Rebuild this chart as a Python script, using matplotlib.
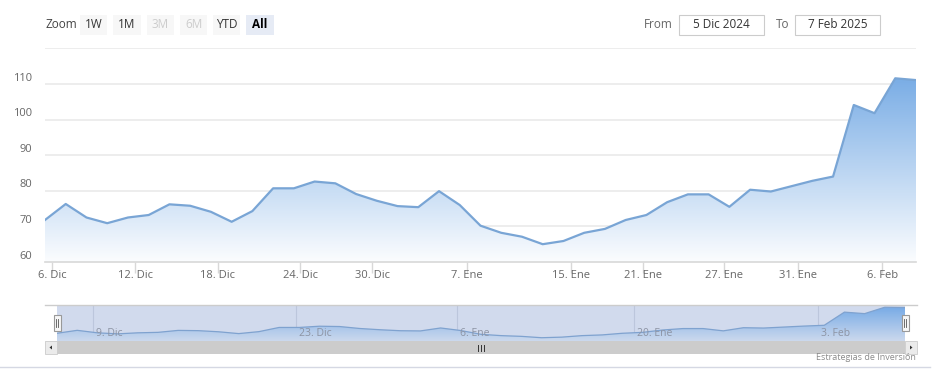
import matplotlib
matplotlib.use("Agg")
import matplotlib.pyplot as plt
import numpy as np
from matplotlib.patches import Rectangle, Polygon
from matplotlib.colors import LinearSegmentedColormap

# ---------------- data ----------------
values = [71.8, 76.3, 72.5, 70.9, 72.5, 73.2, 76.2, 75.8, 74.1, 71.3,
          74.3, 80.7, 80.7, 82.6, 82.1, 79.1, 77.2, 75.7, 75.4, 79.9,
          76.0, 70.2, 68.2, 67.1, 65.0, 65.9, 68.2, 69.3, 71.8, 73.2,
          76.8, 79.0, 79.0, 75.5, 80.3, 79.8, 81.3, 82.8, 84.0, 104.1,
          101.8, 111.6, 111.1]
x_tick_labels = ["6. Dic", "12. Dic", "18. Dic", "24. Dic", "30. Dic", "7. Ene",
                 "15. Ene", "21. Ene", "27. Ene", "31. Ene", "6. Feb"]
x_tick_index = [0.34, 4.34, 8.34, 12.3, 15.78, 20.33, 25.35, 28.85, 32.75, 36.3, 40.37]
y_ticks = [60, 70, 80, 90, 100, 110, 120]
y_tick_labels = ["60", "70", "80", "90", "100", "110", ""]
nav_labels = ["9. Dic", "23. Dic", "6. Ene", "20. Ene", "3. Feb"]
nav_index = [1.78, 11.84, 19.8, 28.6, 37.7]
zoom_buttons = ["1W", "1M", "3M", "6M", "YTD", "All"]
from_date = "5 Dic 2024"
to_date = "7 Feb 2025"
credit = "Estrategias de Inversión"

# ---------------- layout helpers ----------------
W, H = 933, 388
plt.rcParams['font.family'] = ['Open Sans', 'DejaVu Sans']
fig = plt.figure(figsize=(W / 100, H / 100), dpi=100)
fig.patch.set_facecolor('white')


def fx(px):
    return px / W


def fy(py):
    return 1 - py / H


def frect(x0, y0, x1, y1, **kw):
    r = Rectangle((fx(x0), fy(y1)), fx(x1) - fx(x0), (y1 - y0) / H,
                  transform=fig.transFigure, **kw)
    fig.add_artist(r)
    return r


def fline(x0, y0, x1, y1, **kw):
    fig.add_artist(plt.Line2D([fx(x0), fx(x1)], [fy(y0), fy(y1)],
                              transform=fig.transFigure, **kw))


x = np.arange(len(values))
vmax = max(values)
blue_line = '#79a5d5'
cmap = LinearSegmentedColormap.from_list(
    'g', [(1, 1, 1), (0.48, 0.68, 0.9)])

# ---------------- main axes ----------------
ax = fig.add_axes([fx(45), fy(262), fx(916) - fx(45), (262 - 48.4) / H])
ax.set_xlim(0, len(values) - 1)
ax.set_ylim(60, 120)
for s in ['top', 'right', 'left']:
    ax.spines[s].set_visible(False)
ax.spines['bottom'].set_color('#d8d8d8')
ax.spines['bottom'].set_linewidth(1.2)
ax.set_yticks(y_ticks)
ax.set_yticklabels([])
ax.tick_params(axis='y', length=0)
ax.grid(axis='y', color='#e8e8e8', linewidth=1.1)
ax.set_axisbelow(True)
ax.set_xticks(x_tick_index)
ax.set_xticklabels([])
ax.tick_params(axis='x', length=8, color='#d8d8d8', width=1, direction='out')

grad = np.linspace(0, 1, 256).reshape(-1, 1)
im = ax.imshow(grad, extent=[0, len(values) - 1, 60, vmax], origin='lower',
               aspect='auto', cmap=cmap, vmin=-0.03, vmax=1.0, zorder=1)
clip = Polygon(np.vstack([np.column_stack([x, values]),
                          [[x[-1], 60], [x[0], 60]]]),
               closed=True, transform=ax.transData, facecolor='none', edgecolor='none')
ax.add_patch(clip)
im.set_clip_path(clip)
ax.plot(x, values, color=blue_line, lw=1.6, zorder=3, solid_joinstyle='round')

for v, lab in zip(y_ticks, y_tick_labels):
    ax.annotate(lab, xy=(0, v), xycoords=('axes fraction', 'data'),
                xytext=(-13 * 0.72, 6 * 0.72), textcoords='offset points',
                ha='right', va='center', fontsize=8, color='#666666')
for p, lab in zip(x_tick_index, x_tick_labels):
    ax.annotate(lab, xy=(p, 0), xycoords=('data', 'axes fraction'),
                xytext=(0, -14 * 0.72), textcoords='offset points',
                ha='center', va='center', fontsize=8, color='#666666')

# ---------------- navigator ----------------
frect(45, 305, 917, 341, facecolor='white', edgecolor='none', zorder=0)
nav = fig.add_axes([fx(57), fy(341), fx(905) - fx(57), (341 - 305) / H])
nav.set_xlim(0, len(values) - 1)
nav.set_ylim(60, 115)
nav.set_facecolor('#d1daed')
for s in nav.spines.values():
    s.set_visible(False)
nav.set_xticks([])
nav.set_yticks([])
for p, lab in zip(nav_index, nav_labels):
    nav.axvline(p, color='#bcc6dc', lw=0.8, zorder=0.5)
    nav.annotate(lab, xy=(p, 0), xycoords=('data', 'axes fraction'),
                 xytext=(3 * 0.72, 7 * 0.72), textcoords='offset points',
                 ha='left', va='center', fontsize=7.5, color='#8c93a3', zorder=5)
nav_cmap = LinearSegmentedColormap.from_list(
    'n', [(0.80, 0.85, 0.93), (0.45, 0.66, 0.9)])
nim = nav.imshow(np.linspace(0, 1, 256).reshape(-1, 1), extent=[0, len(values) - 1, 60, 115],
                 origin='lower', aspect='auto', cmap=nav_cmap, zorder=2)
nclip = Polygon(np.vstack([np.column_stack([x, values]),
                           [[x[-1], 60], [x[0], 60]]]),
                closed=True, transform=nav.transData, facecolor='none', edgecolor='none')
nav.add_patch(nclip)
nim.set_clip_path(nclip)
nav.plot(x, values, color='#7fa2cf', lw=0.9, zorder=3)

fline(45, 305, 917, 305, color='#cccccc', lw=1)
# handles
for hx in (57, 905):
    frect(hx - 3.5, 315, hx + 3.5, 331, facecolor='#f7f7f7', edgecolor='#999999', lw=0.8, zorder=5)
    fline(hx - 1, 319, hx - 1, 327, color='#555555', lw=0.6, zorder=6)
    fline(hx + 1, 319, hx + 1, 327, color='#555555', lw=0.6, zorder=6)

# scrollbar
frect(45, 341, 917, 354, facecolor='#f2f2f2', edgecolor='none', zorder=1)
frect(57, 341, 905, 354, facecolor='#cccccc', edgecolor='none', zorder=2)
frect(45, 341, 57, 354, facecolor='#ebebeb', edgecolor='#cccccc', lw=0.6, zorder=2)
frect(905, 341, 917, 354, facecolor='#ebebeb', edgecolor='#cccccc', lw=0.6, zorder=2)
tri_l = Polygon([[fx(49.5), fy(347.5)], [fx(52), fy(345.5)], [fx(52), fy(349.5)]],
                closed=True, transform=fig.transFigure, facecolor='#333333', edgecolor='none', zorder=3)
tri_r = Polygon([[fx(912.5), fy(347.5)], [fx(910), fy(345.5)], [fx(910), fy(349.5)]],
                closed=True, transform=fig.transFigure, facecolor='#333333', edgecolor='none', zorder=3)
fig.add_artist(tri_l)
fig.add_artist(tri_r)
for gx in (478, 481, 484):
    fline(gx, 344.5, gx, 350.5, color='#333333', lw=0.7, zorder=3)

# bottom line and credit
fline(0, 367, 930, 367, color='#d5d8e3', lw=1)
fig.text(fx(916), fy(358), credit, ha='right', va='center', fontsize=6.5, color='#8a8a8a')

# ---------------- range selector ----------------
fig.text(fx(46), fy(25), "Zoom", ha='left', va='center', fontsize=8.5, color='#444444')
btn_x = [(80, 107), (113, 141), (147, 174), (180, 207), (213, 240), (246, 274)]
disabled = {"3M", "6M"}
for (x0, x1), lab in zip(btn_x, zoom_buttons):
    if lab == "All":
        fc, tc, fw = '#e6ebf5', '#000000', 'bold'
    else:
        fc, tc, fw = '#f7f7f7', ('#cccccc' if lab in disabled else '#333333'), 'normal'
    frect(x0, 15, x1, 35, facecolor=fc, edgecolor='none', zorder=1)
    fig.text(fx((x0 + x1) / 2), fy(25), lab, ha='center', va='center',
             fontsize=8.5, color=tc, fontweight=fw, zorder=2)

fig.text(fx(673), fy(25), "From", ha='right', va='center', fontsize=8.5, color='#666666')
frect(679, 15, 764, 35, facecolor='white', edgecolor='#cccccc', lw=0.8)
fig.text(fx(721.5), fy(25), from_date, ha='center', va='center', fontsize=8.5, color='#333333')
fig.text(fx(789), fy(25), "To", ha='right', va='center', fontsize=8.5, color='#666666')
frect(795, 15, 880, 35, facecolor='white', edgecolor='#cccccc', lw=0.8)
fig.text(fx(837.5), fy(25), to_date, ha='center', va='center', fontsize=8.5, color='#333333')

fig.savefig('out.png', dpi=100, facecolor='white')
